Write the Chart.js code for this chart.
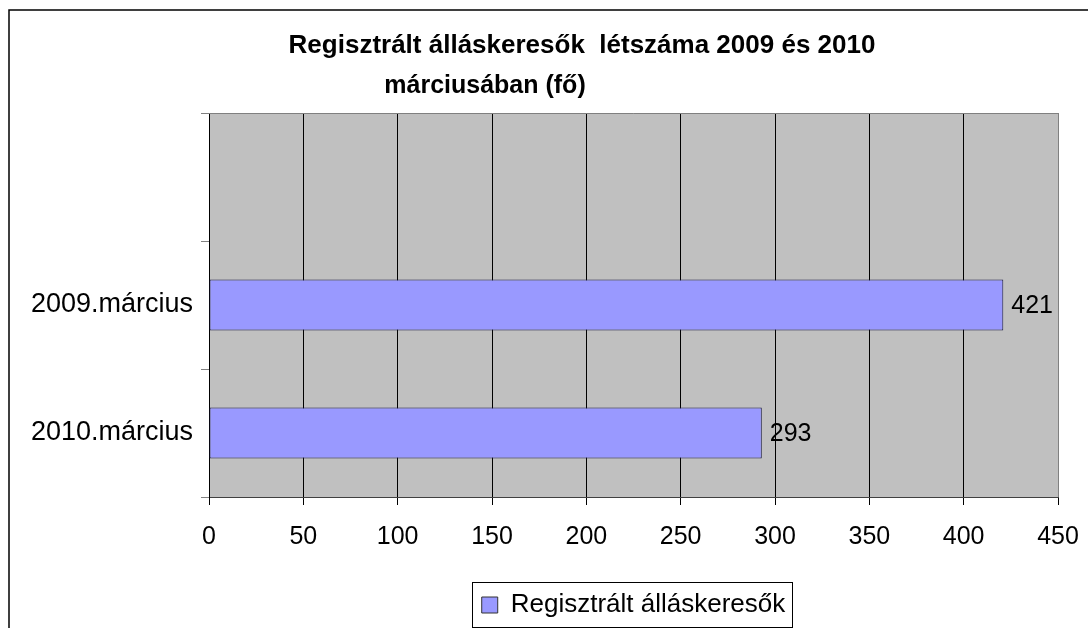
<!DOCTYPE html>
<html>
<head>
<meta charset="utf-8">
<script src="https://cdn.jsdelivr.net/npm/chart.js@4.4.1/dist/chart.umd.min.js"></script>
<style>
  html, body { margin: 0; padding: 0; background: #fff; }
  #wrap { width: 1088px; height: 628px; }
</style>
</head>
<body>
<div id="wrap"><canvas id="chart"></canvas></div>
<script>
// chart data
const categories = ['', '2009.március', '2010.március'];
const seriesName = 'Regisztrált álláskeresők';
const seriesValues = [null, 421, 293];
const titleLines = ['Regisztrált álláskeresők  létszáma 2009 és 2010', 'márciusában (fő)'];
const xMin = 0;
const xMax = 450;
const xStep = 50;

const FONT = '"Liberation Sans", Arial, sans-serif';

// white page with the frame line on top and left
const framePlugin = {
  id: 'frame',
  beforeDraw(chart) {
    const { ctx, width, height } = chart;
    ctx.save();
    ctx.fillStyle = '#fff';
    ctx.fillRect(0, 0, width, height);
    ctx.strokeStyle = '#000';
    ctx.lineWidth = 1.5;
    ctx.beginPath();
    ctx.moveTo(9, height);
    ctx.lineTo(9, 10);
    ctx.lineTo(width, 10);
    ctx.stroke();
    ctx.restore();
  }
};

// grey plot background + grey top/right border
const plotAreaPlugin = {
  id: 'plotArea',
  beforeDraw(chart) {
    const { ctx, chartArea: a } = chart;
    ctx.save();
    ctx.fillStyle = '#c0c0c0';
    ctx.fillRect(a.left, a.top, a.right - a.left, a.bottom - a.top);
    ctx.restore();
  },
  afterDraw(chart) {
    const { ctx, chartArea: a } = chart;
    ctx.save();
    ctx.strokeStyle = '#808080';
    ctx.lineWidth = 1;
    ctx.beginPath();
    ctx.moveTo(a.left, a.top + 0.5);
    ctx.lineTo(a.right + 0.5, a.top + 0.5);
    ctx.lineTo(a.right + 0.5, a.bottom);
    ctx.stroke();
    ctx.restore();
  }
};

// two-line title, second line sits left of centre like the original
const titlePlugin = {
  id: 'twoLineTitle',
  afterDraw(chart) {
    const { ctx } = chart;
    ctx.save();
    ctx.fillStyle = '#000';
    ctx.textAlign = 'center';
    ctx.textBaseline = 'alphabetic';
    ctx.font = 'bold 26px ' + FONT;
    ctx.fillText(titleLines[0], 582, 53);
    ctx.font = 'bold 25px ' + FONT;
    ctx.fillText(titleLines[1], 485, 93);
    ctx.restore();
  }
};

// value labels at bar ends
const valueLabels = {
  id: 'valueLabels',
  afterDatasetsDraw(chart) {
    const { ctx } = chart;
    const meta = chart.getDatasetMeta(0);
    ctx.save();
    ctx.fillStyle = '#000';
    ctx.font = '25px ' + FONT;
    ctx.textAlign = 'left';
    ctx.textBaseline = 'middle';
    meta.data.forEach((bar, i) => {
      const v = seriesValues[i];
      if (v === null) return;
      ctx.fillText(String(v), bar.x + 8, bar.y + 1);
    });
    ctx.restore();
  }
};

// centre legend under plot area and put a box round it
const legendBox = {
  id: 'legendBox',
  afterLayout(chart) {
    const lg = chart.legend;
    const a = chart.chartArea;
    const shift = (a.left + a.right) / 2 - (lg.left + lg.right) / 2;
    lg.left += shift;
    lg.right += shift;
    lg.legendHitBoxes.forEach(h => { h.left += shift; });
  },
  afterDraw(chart) {
    const lg = chart.legend;
    const h = lg.legendHitBoxes[0];
    if (!h) return;
    const { ctx } = chart;
    ctx.save();
    ctx.strokeStyle = '#000';
    ctx.lineWidth = 1;
    ctx.strokeRect(Math.round(h.left - 10) + 0.5, Math.round(lg.top) + 0.5,
      Math.round(h.width + 16), Math.round(lg.bottom - lg.top) - 1);
    ctx.restore();
  }
};

new Chart(document.getElementById('chart'), {
  type: 'bar',
  data: {
    labels: categories,
    datasets: [{
      label: seriesName,
      data: seriesValues,
      backgroundColor: '#9999ff',
      borderColor: '#1a1a40',
      borderWidth: 1,
      borderSkipped: false,
      categoryPercentage: 0.8,
      barPercentage: 0.5
    }]
  },
  options: {
    indexAxis: 'y',
    responsive: true,
    maintainAspectRatio: false,
    animation: false,
    layout: { padding: { top: 113, right: 30, left: 0, bottom: 0 } },
    scales: {
      x: {
        min: xMin,
        max: xMax,
        ticks: { stepSize: xStep, color: '#000', padding: 17, font: { family: FONT, size: 25 } },
        grid: {
          color: c => (c.tick && c.tick.value === xMax ? '#808080' : '#000'),
          tickColor: '#000',
          tickLength: 8,
          lineWidth: 1
        },
        border: { color: '#404040', width: 1 },
        afterFit(scale) {
          scale.height = 85;
          scale.paddingLeft = 0;
          scale.paddingRight = 0;
        }
      },
      y: {
        offset: true,
        ticks: { color: '#000', padding: 8, font: { family: FONT, size: 27 } },
        grid: {
          offset: true,
          drawOnChartArea: false,
          tickColor: '#808080',
          tickLength: 8
        },
        border: { color: '#000', width: 1 },
        afterFit(scale) { scale.width = 209; }
      }
    },
    plugins: {
      title: { display: false },
      tooltip: { enabled: false },
      legend: {
        position: 'bottom',
        labels: {
          color: '#000',
          boxWidth: 16,
          boxHeight: 16,
          padding: 10,
          font: { family: FONT, size: 26 },
          generateLabels(chart) {
            const ds = chart.data.datasets[0];
            return [{
              text: ds.label,
              fillStyle: ds.backgroundColor,
              strokeStyle: '#333',
              lineWidth: 1,
              datasetIndex: 0
            }];
          }
        }
      }
    }
  },
  plugins: [framePlugin, plotAreaPlugin, titlePlugin, valueLabels, legendBox]
});
</script>
</body>
</html>
